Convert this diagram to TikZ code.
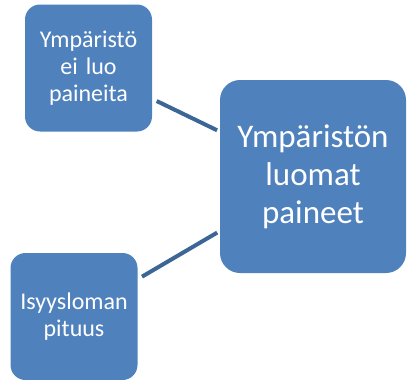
\documentclass[tikz,border=0pt]{standalone}
\usepackage{fontspec}
\setmainfont{Carlito}
\usepackage{tikz}
\usetikzlibrary{positioning}
\definecolor{envFill}{HTML}{4F81BD}
\definecolor{envEdge}{HTML}{3C6696}
\tikzset{
  envbox/.style={fill=envFill,text=white,rounded corners=15pt,align=center,inner sep=2pt,
                 minimum width=127pt,minimum height=127pt,text width=120pt,
                 font=\fontsize{24}{27}\selectfont},
  envbig/.style={envbox,rounded corners=20pt,minimum width=186pt,minimum height=193pt,
                 text width=180pt,font=\fontsize{33}{38}\selectfont},
  envlink/.style={draw=envEdge,line width=4pt,shorten <=5pt,shorten >=3pt},
}
\begin{document}
\begin{tikzpicture}[x=1pt,y=1pt]
  \useasboundingbox (0,0) rectangle (407,-380);
  \node[envbig] (P) at (313,-176.5) {Ympäristön\\luomat\\paineet};
  \node[envbox] (E) at (88.5,-68) {Ympäristö\\ei luo\\paineita};
  \node[envbox] (L) at (74,-316.5) {Isyysloman\\pituus};

  \draw[envlink] (E)--(P);
  \draw[envlink] (L)--(P);
\end{tikzpicture}
\end{document}
